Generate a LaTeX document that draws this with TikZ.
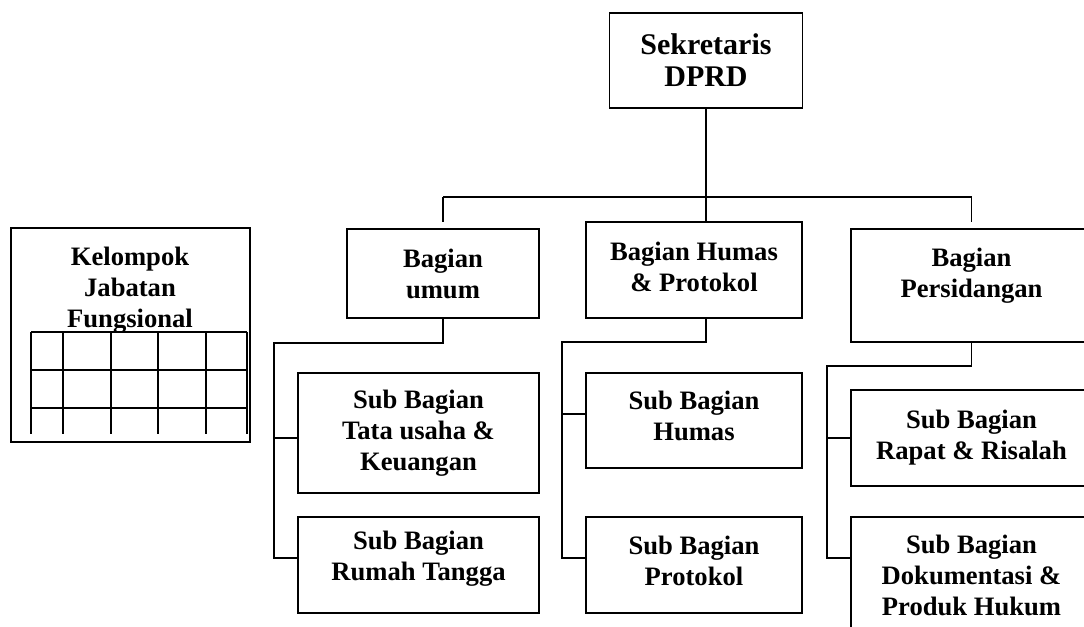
\documentclass[tikz,border=0pt]{standalone}
\usepackage{fontspec}
\setmainfont{Liberation Serif}
\begin{document}
\begin{tikzpicture}[x=0.5pt, y=-0.5pt,
    unit/.style={draw=black, line width=0.85pt, align=center, inner sep=0pt,
      font=\fontsize{13.3}{15.5}\selectfont\bfseries},
    boxtext/.style={align=center, inner sep=0pt, font=\fontsize{13.3}{15.5}\selectfont\bfseries},
    link/.style={line width=0.7pt}]
    \useasboundingbox (0,0) rectangle (1084,627);
    \clip (0,0) rectangle (1084,627);

    \node[unit, minimum width=96.5pt, minimum height=47.5pt, font=\fontsize{15}{16}\selectfont\bfseries] (sekretaris) at (706,60.5) {Sekretaris\\DPRD};

    \node[unit, minimum width=96pt, minimum height=44.5pt] (umum) at (443,273.5) {Bagian\\umum};
    \node[unit, minimum width=108pt, minimum height=48pt, text depth=3pt] (humas) at (694,270) {Bagian Humas\\\& Protokol};
    \node[unit, minimum width=120.5pt, minimum height=56.5pt, text depth=13pt] (persidangan) at (971.5,285.5) {Bagian\\Persidangan};

    \node[unit, minimum width=120.5pt, minimum height=60pt] (tata) at (418.5,433) {Sub Bagian\\Tata usaha \&\\Keuangan};
    \node[unit, minimum width=120.5pt, minimum height=48pt, text depth=9pt] (rumah) at (418.5,565) {Sub Bagian\\Rumah Tangga};
    \node[unit, minimum width=108pt, minimum height=47.5pt, text depth=5pt] (subhumas) at (694,420.5) {Sub Bagian\\Humas};
    \node[unit, minimum width=108pt, minimum height=48pt, text depth=4pt] (protokol) at (694,565) {Sub Bagian\\Protokol};
    \node[unit, minimum width=120.5pt, minimum height=48pt] (rapat) at (971.5,438) {Sub Bagian\\Rapat \& Risalah};
    \node[unit, minimum width=120.5pt, minimum height=58pt] (dokumentasi) at (971.5,575) {Sub Bagian\\Dokumentasi \&\\Produk Hukum};

    \node[unit, line width=1pt, minimum width=119.5pt, minimum height=107pt] (kelompok) at (130.5,335) {};
    \node[boxtext] (fungsional) at (130,290) {Kelompok\\Jabatan\\Fungsional};
    \foreach \y in {332,370,408}
      \draw[link] (31,\y) -- (247,\y);
    \foreach \x in {31,63,111,158,206,247}
      \draw[link] (\x,332) -- (\x,434);

    \coordinate (hub) at (706,197);
    \draw[link] (sekretaris.south) -- (hub);
    \draw[link] (umum.north |- hub) -- (persidangan.north |- hub);
    \draw[link] (umum.north |- hub) -- ([yshift=3pt]umum.north);
    \draw[link] (hub) -- (hub |- humas.north);
    \draw[link] (persidangan.north |- hub) -- ([yshift=3pt]persidangan.north);

    \coordinate (jumum) at (274,343);
    \draw[link] (umum.south) |- (jumum) |- ([yshift=-2.5pt]tata.west);
    \draw[link] (jumum) |- ([yshift=3.5pt]rumah.west);

    \coordinate (jhumas) at (562,342);
    \draw[link] (hub |- humas.south) |- (jhumas) |- ([yshift=3.25pt]subhumas.west);
    \draw[link] (jhumas) |- ([yshift=3.5pt]protokol.west);

    \coordinate (jsidang) at (827,366);
    \draw[link] (persidangan.south) |- (jsidang) |- (rapat.west);
    \draw[link] (jsidang) |- ([yshift=8.5pt]dokumentasi.west);
  \end{tikzpicture}
\end{document}
